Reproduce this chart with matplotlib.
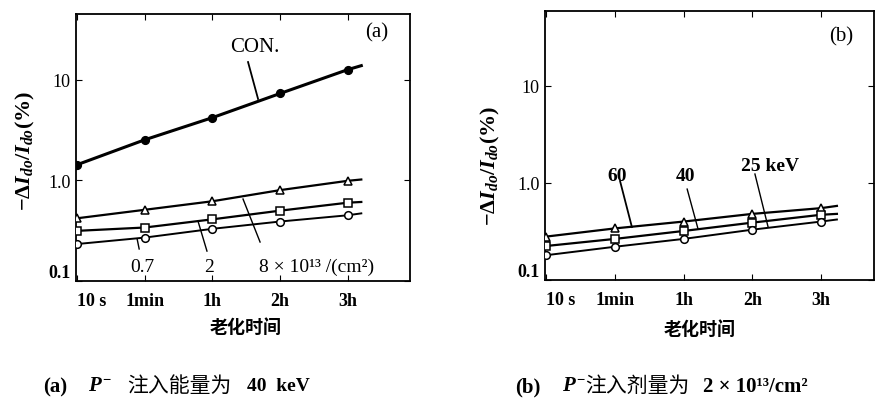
import matplotlib
matplotlib.use("Agg")
import matplotlib.pyplot as plt

plt.rcParams['font.family'] = ['Liberation Serif', 'Noto Sans CJK SC', 'DejaVu Serif']
plt.rcParams['mathtext.fontset'] = 'custom'
plt.rcParams['mathtext.rm'] = 'Liberation Serif:bold'
plt.rcParams['mathtext.it'] = 'Liberation Serif:bold:italic'
plt.rcParams['mathtext.bf'] = 'Liberation Serif:bold'

# ageing time categories
times = ['10 s', '1min', '1h', '2h', '3h']
pos = [0, 1, 2, 3, 4]

# (a) P- implant at 40 keV, different doses
con = [1.43, 2.53, 4.2, 7.3, 12.6]
dose_8 = [0.42, 0.51, 0.62, 0.80, 0.99]
dose_2 = [0.315, 0.34, 0.41, 0.50, 0.60]
dose_07 = [0.233, 0.27, 0.33, 0.39, 0.45]
# where the drawn lines end past the last point
end_a = 4.2
con_end, dose_8_end, dose_2_end, dose_07_end = 13.8, 1.02, 0.61, 0.47

# (b) dose 2e13/cm2, different energies
e60 = [0.28, 0.34, 0.40, 0.48, 0.55]
e40 = [0.224, 0.265, 0.32, 0.39, 0.47]
e25 = [0.18, 0.22, 0.265, 0.33, 0.40]
end_b = 4.23
e60_end, e40_end, e25_end = 0.58, 0.48, 0.42

fig = plt.figure(figsize=(8.75, 4.02), dpi=100)
axa = fig.add_axes([0.0869, 0.2985, 0.3817, 0.6642])
axb = fig.add_axes([0.6229, 0.301, 0.376, 0.669])


def series(ax, y, yend, xend, marker, filled=False, lw=1.4):
    ax.plot(pos + [xend], y + [yend], color='black', lw=lw, zorder=2)
    ax.plot(pos, y, ls='none', marker=marker, ms=5.5, mew=1.1,
            mec='black', mfc='black' if filled else 'white', zorder=3)


def style(ax, top, right):
    ax.set_yscale('log')
    ax.set_ylim(0.1, top)
    ax.set_xlim(-0.015, right)
    ax.set_yticks([0.1, 1, 10])
    ax.set_yticklabels(['0.1', '1.0', '10'])
    ax.minorticks_off()
    ax.set_xticks(pos)
    ax.set_xticklabels(times, fontsize=13, fontweight='bold')
    ax.tick_params(axis='x', direction='in', top=True, length=4, pad=8)
    ax.tick_params(axis='y', direction='in', right=True, length=4, pad=4,
                   labelsize=13)
    labs = ax.get_yticklabels()
    labs[0].set_fontweight('bold')
    labs[0].set_va('bottom')
    ax.get_xticklabels()[0].set_ha('left')
    for s in ax.spines.values():
        s.set_linewidth(1.3)


series(axa, con, con_end, end_a, 'o', filled=True, lw=2.2)
series(axa, dose_8, dose_8_end, end_a, '^', lw=1.6)
series(axa, dose_2, dose_2_end, end_a, 's', lw=1.6)
series(axa, dose_07, dose_07_end, end_a, 'o', lw=1.4)
style(axa, 45, 4.92)

tr = axa.transAxes
axa.text(0.536, 0.88, 'CON.', transform=tr, fontsize=15, ha='center', va='center')
axa.plot([0.515, 0.545], [0.82, 0.682], transform=tr, color='black', lw=1.3)
axa.text(0.90, 0.933, '(a)', transform=tr, fontsize=15, ha='center', va='center')
axa.text(0.198, 0.056, '0.7', transform=tr, fontsize=14, ha='center', va='center')
axa.plot([0.183, 0.189], [0.157, 0.12], transform=tr, color='black', lw=1.0)
axa.text(0.398, 0.056, '2', transform=tr, fontsize=14, ha='center', va='center')
axa.plot([0.365, 0.392], [0.225, 0.112], transform=tr, color='black', lw=1.0)
axa.text(0.548, 0.056, '8 × 10¹³ /(cm²)', transform=tr, fontsize=14,
         ha='left', va='center')
axa.plot([0.50, 0.551], [0.307, 0.146], transform=tr, color='black', lw=1.0)

series(axb, e60, e60_end, end_b, '^', lw=1.6)
series(axb, e40, e40_end, end_b, 's', lw=1.6)
series(axb, e25, e25_end, end_b, 'o', lw=1.4)
style(axb, 59, 4.77)

tr = axb.transAxes
axb.text(0.90, 0.907, '(b)', transform=tr, fontsize=15, ha='center', va='center')
axb.text(0.219, 0.387, '60', transform=tr, fontsize=14, fontweight='bold',
         ha='center', va='center')
axb.plot([0.228, 0.264], [0.368, 0.197], transform=tr, color='black', lw=1.3)
axb.text(0.426, 0.387, '40', transform=tr, fontsize=14, fontweight='bold',
         ha='center', va='center')
axb.plot([0.432, 0.465], [0.338, 0.19], transform=tr, color='black', lw=1.0)
axb.text(0.684, 0.424, '25 keV', transform=tr, fontsize=14, fontweight='bold',
         ha='center', va='center')
axb.plot([0.638, 0.678], [0.394, 0.197], transform=tr, color='black', lw=1.0)

ylab = r'$-\Delta I_{do}/I_{do}$(%)'
fig.text(25 / 875, 1 - 151 / 402, ylab, rotation=90, fontsize=16,
         fontweight='bold', ha='center', va='center')
fig.text(490 / 875, 1 - 166 / 402, ylab, rotation=90, fontsize=16,
         fontweight='bold', ha='center', va='center')

fig.text(246 / 875, 1 - 328 / 402, '老化时间', fontsize=13, fontweight='bold',
         ha='center', va='center')
fig.text(700 / 875, 1 - 330 / 402, '老化时间', fontsize=13, fontweight='bold',
         ha='center', va='center')

# captions, built from pieces
cy = 1 - 387 / 402
fig.text(43 / 875, cy, '(a)', fontsize=15, fontweight='bold', va='center')
fig.text(88 / 875, cy, r'$P^{-}$', fontsize=15, va='center')
fig.text(127 / 875, cy, '注入能量为', fontsize=15, va='center')
fig.text(247 / 875, cy, '40  keV', fontsize=14, fontweight='bold', va='center')

fig.text(515 / 875, cy, '(b)', fontsize=15, fontweight='bold', va='center')
fig.text(562 / 875, cy, r'$P^{-}$', fontsize=15, va='center')
fig.text(585 / 875, cy, '注入剂量为', fontsize=15, va='center')
fig.text(703 / 875, cy, '2 × 10¹³/cm²', fontsize=15, fontweight='bold', va='center')

fig.savefig('out.png', dpi=100)
